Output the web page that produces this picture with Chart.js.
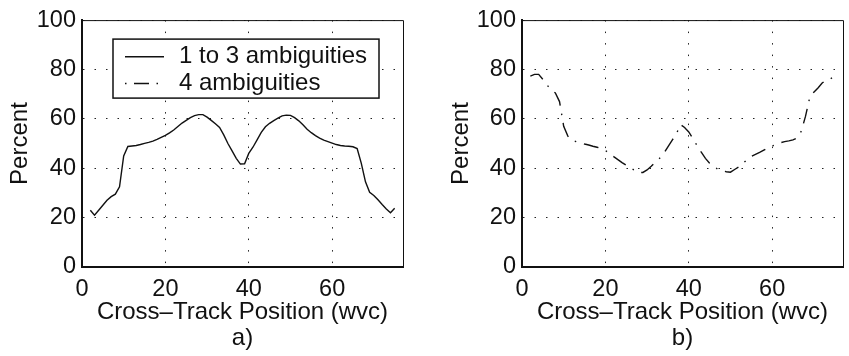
<!DOCTYPE html>
<html>
<head>
<meta charset="utf-8">
<script src="https://cdn.jsdelivr.net/npm/chart.js@4.4.1/dist/chart.umd.min.js"></script>
<style>
  body { margin: 0; background: #fff; }
  #wrap { position: relative; width: 849px; height: 356px; }
  canvas { position: absolute; top: 0; }
</style>
</head>
<body>
<div id="wrap">
  <canvas id="chartA" width="420" height="356" style="left:0"></canvas>
  <canvas id="chartB" width="429" height="356" style="left:420px"></canvas>
</div>
<script>
// cross-track positions (wvc)
const positions = [2, 3, 4, 5, 6, 7, 8, 9, 10, 11, 12, 13, 14, 15, 16, 17, 18, 19, 20, 21,
    22, 23, 24, 25, 26, 27, 28, 29, 30, 31, 32, 33, 34, 35, 36, 37, 38, 39, 40, 41,
    42, 43, 44, 45, 46, 47, 48, 49, 50, 51, 52, 53, 54, 55, 56, 57, 58, 59, 60, 61,
    62, 63, 64, 65, 66, 67, 68, 69, 70, 71, 72, 73, 74, 75];

// a) 1 to 3 ambiguities, percent
const oneToThree = [23, 21, 23, 25, 27, 28.5, 29.5, 32.5, 45, 48.8,
    49, 49.2, 49.6, 50.1, 50.5, 51, 51.7, 52.5, 53.3, 54.3,
    55.5, 56.9, 58.3, 59.4, 60.5, 61.3, 61.7, 61.7, 60.7, 59.4,
    58, 56.5, 53.5, 50, 47, 44, 41.7, 41.8, 46, 48.5,
    51.5, 54.5, 56.8, 58.2, 59.3, 60.3, 61.2, 61.5, 61.4, 60.5,
    59.2, 57.6, 55.8, 54.4, 53.2, 52.2, 51.4, 50.8, 50.2, 49.6,
    49.2, 49, 48.9, 48.7, 48, 42, 34.5, 30.3, 29, 27.2,
    25.3, 23.5, 22, 23.8];

// b) 4 ambiguities, percent
const fourAmbig = [77.3, 78, 78, 76, 73.7, 71.8, 70.5, 67, 57, 53,
    51.2, 50.8, 50.3, 49.8, 49.4, 48.9, 48.5, 48, 47.2, 46,
    44.7, 43.5, 42.3, 41.2, 40.2, 39.2, 38.3, 38.3, 39.3, 40.8,
    42.5, 44, 46, 48.7, 51.3, 53.8, 57.7, 56.5, 54.7, 52,
    49.2, 46.5, 44, 42, 40.7, 39.6, 39, 38.6, 38.4, 39.5,
    40.5, 42, 43.5, 44.8, 45.6, 46.4, 47.3, 48.2, 49, 49.7,
    50.3, 50.8, 51.1, 51.5, 52.3, 55, 61, 68.5, 70.8, 72.5,
    74.5, 75.8, 76.3, 77];

const xTicks = [0, 20, 40, 60];
const yTicks = [0, 20, 40, 60, 80, 100];
const seriesNames = ['1 to 3 ambiguities', '4 ambiguities'];
const xTitle = 'Cross\u2013Track Position (wvc)';
const yTitle = 'Percent';
const panelNames = ['a)', 'b)'];

const family = '"Liberation Sans", Arial, Helvetica, sans-serif';
const ink = '#111';
const dashDot = [15, 8, 1.5, 8];

// thin top and right edges of the axes box
const framePlugin = {
    id: 'frame',
    afterDatasetsDraw(chart) {
        const { ctx, chartArea: a } = chart;
        ctx.save();
        ctx.strokeStyle = ink;
        ctx.lineWidth = 1;
        ctx.beginPath();
        ctx.moveTo(a.left, a.top + 0.5);
        ctx.lineTo(a.right + 0.5, a.top + 0.5);
        ctx.lineTo(a.right + 0.5, a.bottom);
        ctx.stroke();
        ctx.restore();
    }
};

// boxed legend inside panel a)
const boxLegend = {
    id: 'boxLegend',
    afterDraw(chart, args, opts) {
        if (!opts.items) return;
        const { ctx, chartArea: a } = chart;
        const x = a.left + 31, y = a.top + 19, w = 266, h = 59;
        ctx.save();
        ctx.fillStyle = '#fff';
        ctx.fillRect(x, y, w, h);
        ctx.lineWidth = 1.5;
        ctx.strokeStyle = ink;
        ctx.strokeRect(x, y, w, h);
        ctx.font = '24px ' + family;
        ctx.textBaseline = 'middle';
        opts.items.forEach((it, i) => {
            const cy = y + 17.7 + i * 26.7;
            ctx.setLineDash(it.dash);
            ctx.lineWidth = 1.4;
            ctx.beginPath();
            ctx.moveTo(x + 12, cy);
            ctx.lineTo(x + 51, cy);
            ctx.stroke();
            ctx.setLineDash([]);
            ctx.fillStyle = ink;
            ctx.fillText(it.text, x + 66, cy);
        });
        ctx.restore();
    }
};

function makeChart(id, values, label, dash, panel, cfg) {
    const axisLine = { display: true, width: 2, color: ink, dash: [1.5, 10] };
    const grid = { color: '#222', lineWidth: 1, drawTicks: false };
    return new Chart(document.getElementById(id), {
        type: 'line',
        data: {
            datasets: [{
                label: label,
                data: positions.map((p, i) => ({ x: p, y: values[i] })),
                borderColor: ink,
                borderWidth: 1.4,
                borderDash: dash,
                pointRadius: 0,
                tension: 0,
                fill: false
            }]
        },
        options: {
            responsive: false,
            animation: false,
            devicePixelRatio: 1,
            layout: { padding: { top: cfg.top, right: cfg.right, left: 0, bottom: 0 } },
            plugins: {
                legend: { display: false },
                tooltip: { enabled: false },
                boxLegend: { items: cfg.legend }
            },
            scales: {
                x: {
                    type: 'linear',
                    min: 0,
                    max: 77,
                    afterBuildTicks: s => { s.ticks = xTicks.map(v => ({ value: v })); },
                    afterFit: s => { s.height = cfg.xHeight; },
                    grid: grid,
                    border: axisLine,
                    ticks: { color: ink, font: { family, size: 23.5 }, padding: 8, maxRotation: 0 },
                    title: {
                        display: true,
                        text: [xTitle, panel],
                        color: ink,
                        font: { family, size: 24, lineHeight: 1.08 },
                        padding: { top: 0, bottom: 5 }
                    }
                },
                y: {
                    min: 0,
                    max: 100,
                    afterBuildTicks: s => { s.ticks = yTicks.map(v => ({ value: v })); },
                    afterFit: s => { s.width = cfg.yWidth; },
                    grid: grid,
                    border: axisLine,
                    ticks: { color: ink, font: { family, size: 23.5 }, padding: 6 },
                    title: {
                        display: true,
                        text: yTitle,
                        color: ink,
                        font: { family, size: 24 },
                        padding: { top: cfg.yTitlePad, bottom: 0 }
                    }
                }
            }
        },
        plugins: [framePlugin, boxLegend]
    });
}

makeChart('chartA', oneToThree, seriesNames[0], [], panelNames[0], {
    top: 18, right: 17, xHeight: 89, yWidth: 82, yTitlePad: 6,
    legend: [
        { text: seriesNames[0], dash: [] },
        { text: seriesNames[1], dash: [1.5, 7.5, 15, 7.5] }
    ]
});

makeChart('chartB', fourAmbig, seriesNames[1], dashDot, panelNames[1], {
    top: 19, right: 6, xHeight: 89, yWidth: 102, yTitlePad: 27,
    legend: null
});
</script>
</body>
</html>
